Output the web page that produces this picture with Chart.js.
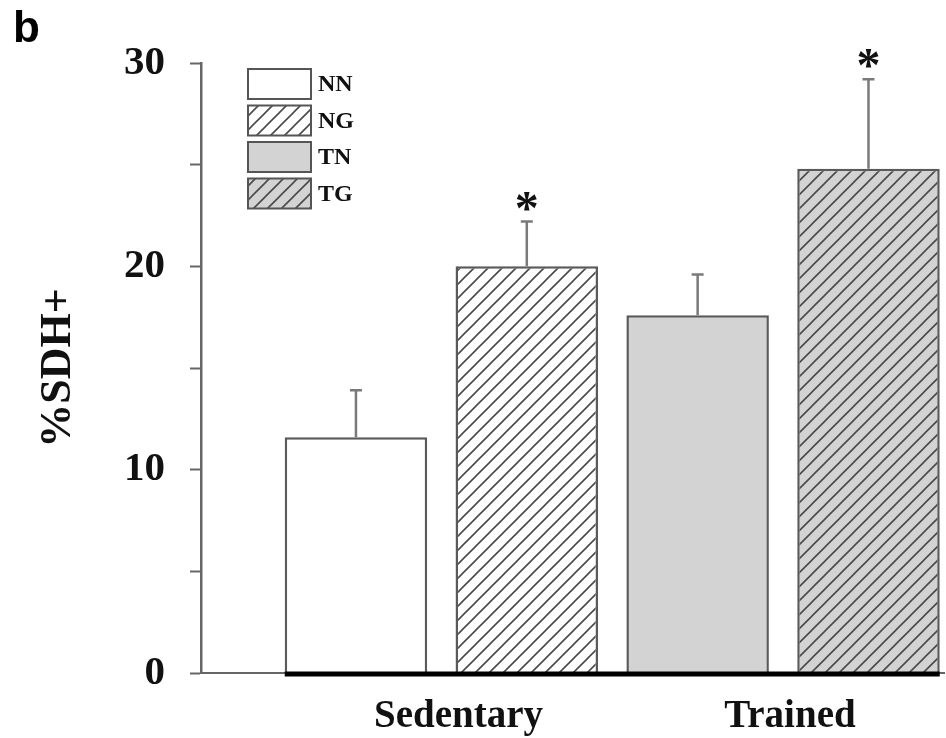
<!DOCTYPE html>
<html><head><meta charset="utf-8">
<script src="https://cdn.jsdelivr.net/npm/chart.js@4.4.1/dist/chart.umd.min.js"></script>
<style>html,body{margin:0;padding:0;background:#fff}</style>
</head><body>
<canvas id="c" width="946" height="738"></canvas>
<script>
const panelLetter = 'b';
const groups = ['Sedentary', 'Trained'];
const seriesNames = ['NN', 'NG', 'TN', 'TG'];
const means = [11.6, 20.0, 17.6, 24.8];
const sems = [2.3, 2.2, 2.0, 4.4];
const significant = [false, true, false, true];
const yTitle = '%SDH+';
const yMin = 0, yMax = 30, yStep = 5, yLabelStep = 10;

const SERIF = '"Liberation Serif", "Times New Roman", serif';

function hatch(bg) {
  const s = 14;
  const c = document.createElement('canvas');
  c.width = s; c.height = s;
  const g = c.getContext('2d');
  g.fillStyle = bg; g.fillRect(0, 0, s, s);
  g.strokeStyle = '#4a4a4a'; g.lineWidth = 1.6;
  g.beginPath();
  g.moveTo(-2, s + 2); g.lineTo(s + 2, -2);
  g.moveTo(-2, 2); g.lineTo(2, -2);
  g.moveTo(s - 2, s + 2); g.lineTo(s + 2, s - 2);
  g.stroke();
  return g.createPattern(c, 'repeat');
}
const ctx = document.getElementById('c').getContext('2d');
const fills = [ '#ffffff', hatch('#ffffff'), '#d3d3d3', hatch('#d3d3d3') ];

const decorPlugin = {
  id: 'decor',
  beforeDraw(chart) {
    const c = chart.ctx;
    c.save(); c.fillStyle = '#fff'; c.fillRect(0, 0, chart.width, chart.height); c.restore();
  },
  afterDatasetsDraw(chart) {
    const c = chart.ctx;
    const meta = chart.getDatasetMeta(0);
    const ys = chart.scales.y;
    c.save();
    meta.data.forEach((bar, i) => {
      const p = bar.getProps(['x', 'y', 'width'], true);
      const top = ys.getPixelForValue(means[i] + sems[i]);
      c.strokeStyle = '#7a7a7a'; c.lineWidth = 2.5;
      c.beginPath();
      c.moveTo(p.x, p.y); c.lineTo(p.x, top);
      c.moveTo(p.x - 6, top); c.lineTo(p.x + 6, top);
      c.stroke();
      if (significant[i]) {
        c.fillStyle = '#111';
        c.font = 'bold 48px ' + SERIF;
        c.textAlign = 'center'; c.textBaseline = 'alphabetic';
        c.fillText('*', p.x, top + 2);
      }
    });
    const f = meta.data[0].getProps(['x', 'width'], true);
    const l = meta.data[meta.data.length - 1].getProps(['x', 'width'], true);
    const y0 = ys.getPixelForValue(0);
    c.fillStyle = '#000';
    c.fillRect(f.x - f.width / 2, y0 - 1.5, (l.x + l.width / 2) - (f.x - f.width / 2), 5);
    c.restore();
  },
  afterDraw(chart) {
    const c = chart.ctx;
    const ca = chart.chartArea;
    c.save();
    c.fillStyle = '#000';
    c.font = 'bold 44px "Liberation Sans", Arial, sans-serif';
    c.textAlign = 'left'; c.textBaseline = 'alphabetic';
    c.fillText(panelLetter, 13, 42);
    // legend
    const x0 = ca.left + 47, y0 = ca.top + 6, bw = 63, bh = 30, gap = 36.5;
    seriesNames.forEach((name, i) => {
      const y = y0 + i * gap;
      c.fillStyle = fills[i]; c.fillRect(x0, y, bw, bh);
      c.strokeStyle = '#555'; c.lineWidth = 2; c.strokeRect(x0, y, bw, bh);
      c.fillStyle = '#111';
      c.font = 'bold 24px ' + SERIF;
      c.textAlign = 'left'; c.textBaseline = 'middle';
      c.fillText(name, x0 + bw + 7, y + bh / 2 + 1);
    });
    c.restore();
  }
};

new Chart(ctx, {
  type: 'bar',
  data: {
    datasets: [{
      label: '%SDH+',
      data: means.map((v, i) => ({ x: i + 1, y: v })),
      backgroundColor: fills,
      borderColor: '#5a5a5a',
      borderWidth: 2.5,
      borderSkipped: 'start',
      barPercentage: 0.834,
      categoryPercentage: 1
    }]
  },
  options: {
    responsive: false,
    animation: false,
    layout: { padding: { top: 63, right: 2, bottom: 0, left: 0 } },
    plugins: { legend: { display: false }, tooltip: { enabled: false } },
    scales: {
      x: {
        type: 'linear', min: 0.093, max: 4.442, offset: false, bounds: 'data',
        afterBuildTicks: s => { s.ticks = [{ value: 1.6 }, { value: 3.54 }]; },
        ticks: {
          callback: (v, i) => groups[i],
          font: { family: SERIF, size: 39, weight: 'bold' },
          color: '#111', padding: 21, maxRotation: 0, autoSkip: false
        },
        grid: { display: false, drawTicks: false, offset: false },
        border: { display: true, color: '#666', width: 2 },
        afterFit: s => { s.height = 65; }
      },
      y: {
        min: yMin, max: yMax,
        ticks: {
          stepSize: yStep,
          callback: v => (v % yLabelStep === 0 ? String(v) : ''),
          font: { family: SERIF, size: 41, weight: 'bold' },
          color: '#111', padding: 25
        },
        grid: { drawOnChartArea: false, drawTicks: true, tickLength: 11, tickColor: '#666', tickWidth: 2 },
        border: { display: true, color: '#666', width: 2.5 },
        title: {
          display: true, text: yTitle,
          font: { family: SERIF, size: 44, weight: 'bold' },
          color: '#111', padding: { top: 32, bottom: 0 }
        },
        afterFit: s => { s.width = 201; }
      }
    }
  },
  plugins: [decorPlugin]
});
</script>
</body></html>
